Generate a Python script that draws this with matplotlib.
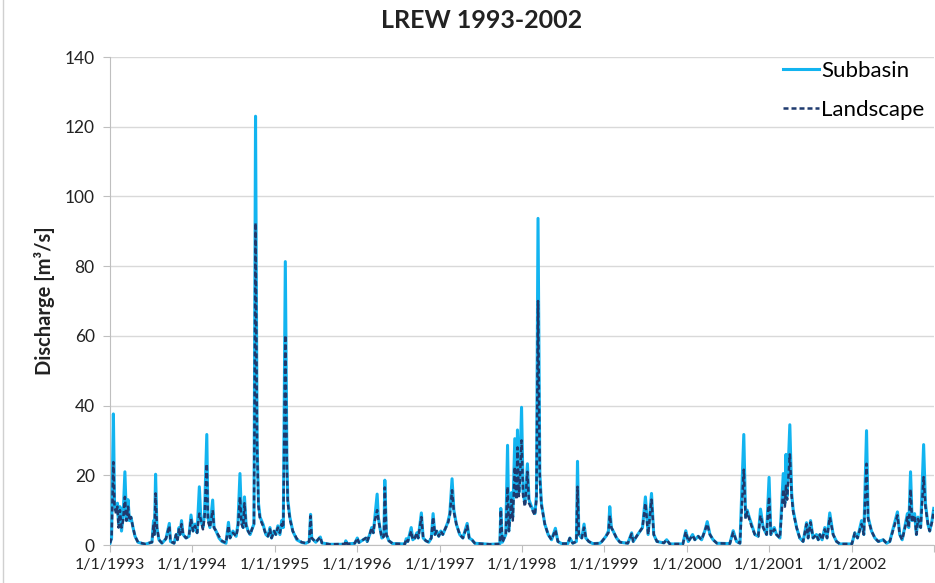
import pandas as pd
import matplotlib
matplotlib.use("Agg")
import matplotlib.pyplot as plt
from matplotlib.lines import Line2D

plt.rcParams['font.family'] = ['Lato', 'DejaVu Sans']

# values (key points of the daily hydrograph)
dates = [
    "1993-01-01", "1993-01-08", "1993-01-16", "1993-01-21", "1993-01-28", "1993-02-03", "1993-02-08",
    "1993-02-14", "1993-02-21", "1993-02-28", "1993-03-08", "1993-03-15", "1993-03-22", "1993-03-28",
    "1993-04-04", "1993-04-13", "1993-04-22", "1993-05-05", "1993-06-05", "1993-07-06", "1993-07-13",
    "1993-07-17", "1993-07-22", "1993-07-28", "1993-08-06", "1993-08-19", "1993-09-06", "1993-09-21",
    "1993-09-26", "1993-10-12", "1993-10-21", "1993-10-27", "1993-11-03", "1993-11-07", "1993-11-14",
    "1993-11-21", "1993-12-04", "1993-12-17", "1993-12-26", "1994-01-04", "1994-01-13", "1994-01-22",
    "1994-02-01", "1994-02-08", "1994-02-17", "1994-02-24", "1994-03-06", "1994-03-11", "1994-03-20",
    "1994-04-01", "1994-04-07", "1994-04-16", "1994-04-29", "1994-05-12", "1994-05-30", "1994-06-10",
    "1994-06-17", "1994-06-30", "1994-07-14", "1994-07-22", "1994-07-31", "1994-08-07", "1994-08-14",
    "1994-08-20", "1994-08-27", "1994-09-05", "1994-09-14", "1994-09-22", "1994-10-01", "1994-10-08",
    "1994-10-15", "1994-10-21", "1994-10-28", "1994-11-10", "1994-11-23", "1994-12-02", "1994-12-11",
    "1994-12-18", "1994-12-29", "1995-01-06", "1995-01-15", "1995-01-24", "1995-02-01", "1995-02-08",
    "1995-02-17", "1995-02-24", "1995-02-28", "1995-03-09", "1995-03-22", "1995-04-09", "1995-05-01",
    "1995-05-19", "1995-06-03", "1995-06-09", "1995-06-14", "1995-07-02", "1995-07-22", "1995-07-29",
    "1995-09-02", "1995-11-08", "1995-11-12", "1995-11-19", "1995-12-22", "1996-01-02", "1996-01-09",
    "1996-02-09", "1996-02-15", "1996-02-26", "1996-03-06", "1996-03-13", "1996-03-20", "1996-03-30",
    "1996-04-04", "1996-04-11", "1996-04-20", "1996-04-29", "1996-05-03", "1996-05-10", "1996-05-21",
    "1996-06-07", "1996-07-31", "1996-08-06", "1996-08-13", "1996-08-28", "1996-09-04", "1996-09-13",
    "1996-09-22", "1996-09-28", "1996-10-12", "1996-10-20", "1996-11-01", "1996-11-14", "1996-11-25",
    "1996-12-03", "1996-12-11", "1996-12-19", "1996-12-28", "1997-01-06", "1997-01-15", "1997-01-28",
    "1997-02-06", "1997-02-15", "1997-02-25", "1997-03-05", "1997-03-16", "1997-03-31", "1997-04-14",
    "1997-05-03", "1997-05-12", "1997-05-24", "1997-06-06", "1997-08-11", "1997-09-25", "1997-09-29",
    "1997-10-06", "1997-10-21", "1997-10-29", "1997-11-04", "1997-11-15", "1997-11-21", "1997-11-30",
    "1997-12-07", "1997-12-12", "1997-12-18", "1997-12-22", "1997-12-30", "1998-01-06", "1998-01-14",
    "1998-01-25", "1998-02-01", "1998-02-12", "1998-02-27", "1998-03-06", "1998-03-13", "1998-03-21",
    "1998-03-28", "1998-04-12", "1998-04-27", "1998-05-12", "1998-05-29", "1998-06-09", "1998-06-26",
    "1998-07-23", "1998-08-01", "1998-08-14", "1998-08-30", "1998-09-04", "1998-09-10", "1998-09-23",
    "1998-10-03", "1998-10-11", "1998-10-24", "1998-11-11", "1998-12-12", "1998-12-21", "1999-01-08",
    "1999-01-19", "1999-01-25", "1999-02-01", "1999-02-09", "1999-02-24", "1999-03-11", "1999-04-15",
    "1999-05-02", "1999-05-09", "1999-05-29", "1999-06-19", "1999-07-02", "1999-07-14", "1999-07-29",
    "1999-08-08", "1999-08-22", "1999-09-22", "1999-10-04", "1999-10-18", "1999-12-15", "1999-12-28",
    "2000-01-08", "2000-01-27", "2000-02-06", "2000-02-21", "2000-03-07", "2000-03-21", "2000-04-01",
    "2000-04-13", "2000-04-27", "2000-05-14", "2000-07-10", "2000-07-25", "2000-08-09", "2000-08-24",
    "2000-09-10", "2000-09-18", "2000-09-25", "2000-10-04", "2000-10-14", "2000-10-29", "2000-11-13",
    "2000-11-23", "2000-12-05", "2000-12-20", "2000-12-31", "2001-01-08", "2001-01-23", "2001-02-02",
    "2001-02-17", "2001-03-04", "2001-03-11", "2001-03-16", "2001-03-21", "2001-04-02", "2001-04-10",
    "2001-04-17", "2001-05-02", "2001-05-16", "2001-05-31", "2001-06-15", "2001-06-22", "2001-07-03",
    "2001-07-14", "2001-07-29", "2001-08-06", "2001-08-13", "2001-08-23", "2001-09-04", "2001-09-14",
    "2001-09-26", "2001-10-11", "2001-10-26", "2001-11-10", "2002-01-02", "2002-01-15", "2002-01-27",
    "2002-02-14", "2002-02-24", "2002-03-08", "2002-03-15", "2002-03-30", "2002-04-14", "2002-04-29",
    "2002-05-21", "2002-06-05", "2002-06-19", "2002-07-23", "2002-08-02", "2002-08-13", "2002-08-24",
    "2002-09-05", "2002-09-11", "2002-09-19", "2002-09-26", "2002-10-07", "2002-10-15", "2002-10-22",
    "2002-11-03", "2002-11-16", "2002-11-24", "2002-12-05", "2002-12-13", "2002-12-23", "2002-12-31",
]

subbasin = [
    0.5, 2, 37.6, 12, 10, 12, 6, 11, 4, 8, 21, 7, 13, 7,
    8, 5, 2.5, 0.8, 0.2, 0.8, 7, 3, 20.3, 5, 1.5, 0.5, 1.8, 6.2,
    1, 0.5, 3, 1.5, 5, 3, 7, 3, 2, 2.5, 8.6, 4, 6, 3.5,
    16.7, 7, 5, 9, 31.7, 8, 5, 12.9, 5, 4, 2, 1, 0.5, 6.5,
    2, 4, 2.5, 6, 20.5, 7, 5, 13.8, 6, 4, 3, 4.5, 6, 123,
    30, 12, 8, 6, 3, 2.5, 5, 2, 4, 3, 5.5, 3, 7, 5,
    81.3, 25, 13, 8, 4, 1.5, 0.7, 0.5, 1, 8.8, 2, 0.8, 2.3, 0.6,
    0.2, 0.2, 1.2, 0.3, 0.5, 2, 0.7, 2, 1, 3, 5, 3.5, 8, 14.6,
    8, 5, 2, 2.5, 18.6, 3, 1.2, 0.4, 0.3, 1.8, 1, 5, 1.5, 2,
    3.5, 2, 9.2, 2, 1.2, 0.8, 2, 9, 3, 4, 2.5, 4, 3, 5,
    6.5, 9, 19, 10, 6, 3, 2, 6.2, 2, 1.5, 0.5, 0.2, 0.3, 10.5,
    0.8, 3, 28.6, 4, 15, 8, 30.5, 14, 33, 15, 20, 39.5, 15, 12,
    23.3, 13, 11, 9, 14, 93.7, 20.5, 12, 6, 3, 1.5, 4.8, 1, 0.4,
    0.4, 2, 0.5, 1, 24, 3, 2, 6, 2, 1, 0.4, 0.5, 1, 2.5,
    4, 11, 5, 4, 2, 0.8, 0.5, 3.5, 1, 3, 5, 13.8, 3, 14.8,
    3, 1, 0.6, 1.5, 0.3, 0.3, 4.1, 1, 3, 1.5, 2.5, 1.5, 4, 6.7,
    3, 1.5, 0.5, 0.4, 4.1, 1, 0.5, 31.7, 8, 10, 8, 6, 3, 2.5,
    10.3, 5, 3, 19.4, 3, 5, 3, 2, 20.5, 12, 26, 14, 34.5, 15,
    10, 5, 2, 1, 6.4, 2, 7, 2, 3, 1.5, 3, 1.5, 5, 2,
    9.2, 3, 1, 0.3, 0.3, 3.5, 2, 7, 3, 32.8, 8, 4, 2, 1,
    1.5, 0.5, 1, 9.5, 3, 1.5, 5, 9, 5, 21, 7, 9, 3, 8,
    5, 28.8, 12, 6, 4, 7, 10.5,
]

landscape = [
    0.5, 2, 23.8, 11, 9, 11, 5, 10, 5, 7, 13.8, 7, 11, 7,
    8, 5, 2.5, 0.8, 0.3, 0.8, 6, 3, 14.8, 5, 1.5, 0.6, 1.8, 5.5,
    1, 0.5, 3, 1.5, 4.5, 3, 6, 3, 2, 2.5, 7.5, 4, 5.5, 3.5,
    9, 7, 4.5, 8, 23.3, 7, 5, 10, 5, 4, 2.5, 1.2, 0.6, 5.5,
    2, 3.5, 2.5, 5, 13.8, 6, 5, 12, 5.5, 4, 3, 4.5, 6, 92.4,
    28, 11, 7.5, 5.5, 3, 2.5, 4.5, 2, 4, 3, 5, 3.5, 6, 5,
    60.2, 22, 12, 7.5, 4, 1.8, 0.8, 0.5, 1, 8.3, 2, 0.8, 2.3, 0.6,
    0.2, 0.3, 1.2, 0.3, 0.5, 2, 0.7, 2, 1, 3, 5, 3.5, 7, 10,
    7.5, 5, 2, 2.5, 16.5, 3, 1.2, 0.4, 0.3, 1.8, 1, 4, 1.5, 2,
    3.5, 2, 8, 2, 1.2, 0.8, 2, 8, 3, 4, 2.5, 4, 3, 5,
    6, 8.5, 15.7, 9.5, 6, 3, 2, 5.5, 2, 1.5, 0.5, 0.2, 0.3, 10,
    0.8, 3, 16.7, 4, 13, 7, 22.4, 13, 28, 14, 18, 30, 14, 11,
    21, 12, 10.5, 8.5, 13, 70, 19, 11.5, 6, 3, 1.5, 4.3, 1, 0.4,
    0.4, 2, 0.5, 1, 16.7, 3, 2, 5, 2, 1, 0.4, 0.5, 1, 2.5,
    3.5, 8.5, 5, 4, 2, 0.8, 0.5, 3.2, 1, 3, 5, 12, 3, 13,
    3, 1, 0.6, 1.5, 0.3, 0.3, 3.8, 1, 2.8, 1.5, 2.5, 1.5, 4, 6,
    3, 1.5, 0.5, 0.4, 3.6, 1, 0.5, 21.6, 7.5, 9.5, 7.5, 5.5, 3, 2.5,
    8.5, 5, 3, 13.8, 3, 4.5, 3, 2, 16, 11, 17, 13, 26, 14,
    9.5, 5, 2, 1, 6, 2, 6.5, 2, 3, 1.5, 3, 1.5, 4.5, 2,
    8, 3, 1, 0.3, 0.3, 3.5, 2, 6, 3, 23.3, 7.5, 4, 2, 1,
    1.5, 0.5, 1, 8.5, 3, 1.5, 4.5, 8, 5, 16, 6.5, 8.5, 3, 7.5,
    5, 19.5, 11, 6, 4, 6.5, 10,
]

years = list(range(1993, 2004))
tick_labels = ["1/1/%d" % y for y in years[:-1]] + [""]

t = pd.to_datetime(dates)

fig = plt.figure(figsize=(9.35, 5.83), dpi=100)
ax = fig.add_axes([110 / 935, 38 / 583, 824 / 935, 488 / 583])

ax.plot(t, subbasin, color="#12B4F0", lw=2.2, label="Subbasin", zorder=3)
ax.plot(t, landscape, color="#1F3A6E", lw=1.8, ls=(0, (2.0, 1.2)), label="Landscape", zorder=4)

ax.set_xlim(pd.Timestamp("1993-01-01"), pd.Timestamp("2003-01-01"))
ax.set_ylim(0, 140)
ax.set_yticks(range(0, 141, 20))
ax.set_xticks(pd.to_datetime(["%d-01-01" % y for y in years]))
ax.set_xticklabels(tick_labels)

ax.grid(axis="y", color="#D9D9D9", lw=1)
ax.set_axisbelow(True)
for s in ["top", "right"]:
    ax.spines[s].set_visible(False)
for s in ["left", "bottom"]:
    ax.spines[s].set_color("#BFBFBF")
ax.tick_params(axis="both", colors="#BFBFBF", labelcolor="#222222", length=5)
ax.tick_params(axis="y", labelsize=12.5, pad=6)
ax.tick_params(axis="x", labelsize=11.5, pad=4)

ax.set_ylabel("Discharge [m³/s]", fontsize=14.5, fontweight="bold", color="#222222")
ax.yaxis.set_label_coords(-55 / 824, 0.5)

fig.text(482 / 935, 1 - 20 / 583, "LREW 1993-2002", ha="center", va="center",
         fontsize=18, fontweight="bold", color="#222222")

ax.legend(loc="upper left", bbox_to_anchor=(783 / 935, 1 - 61 / 583), bbox_transform=fig.transFigure,
          frameon=False, fontsize=16, handlelength=1.6, handletextpad=0.12, labelspacing=0.85,
          borderpad=0, borderaxespad=0)

# chart area border on the left edge
fig.add_artist(Line2D([3 / 935, 3 / 935], [0, 1], transform=fig.transFigure, color="#D0D0D0", lw=1))

fig.savefig("out.png", dpi=100)
